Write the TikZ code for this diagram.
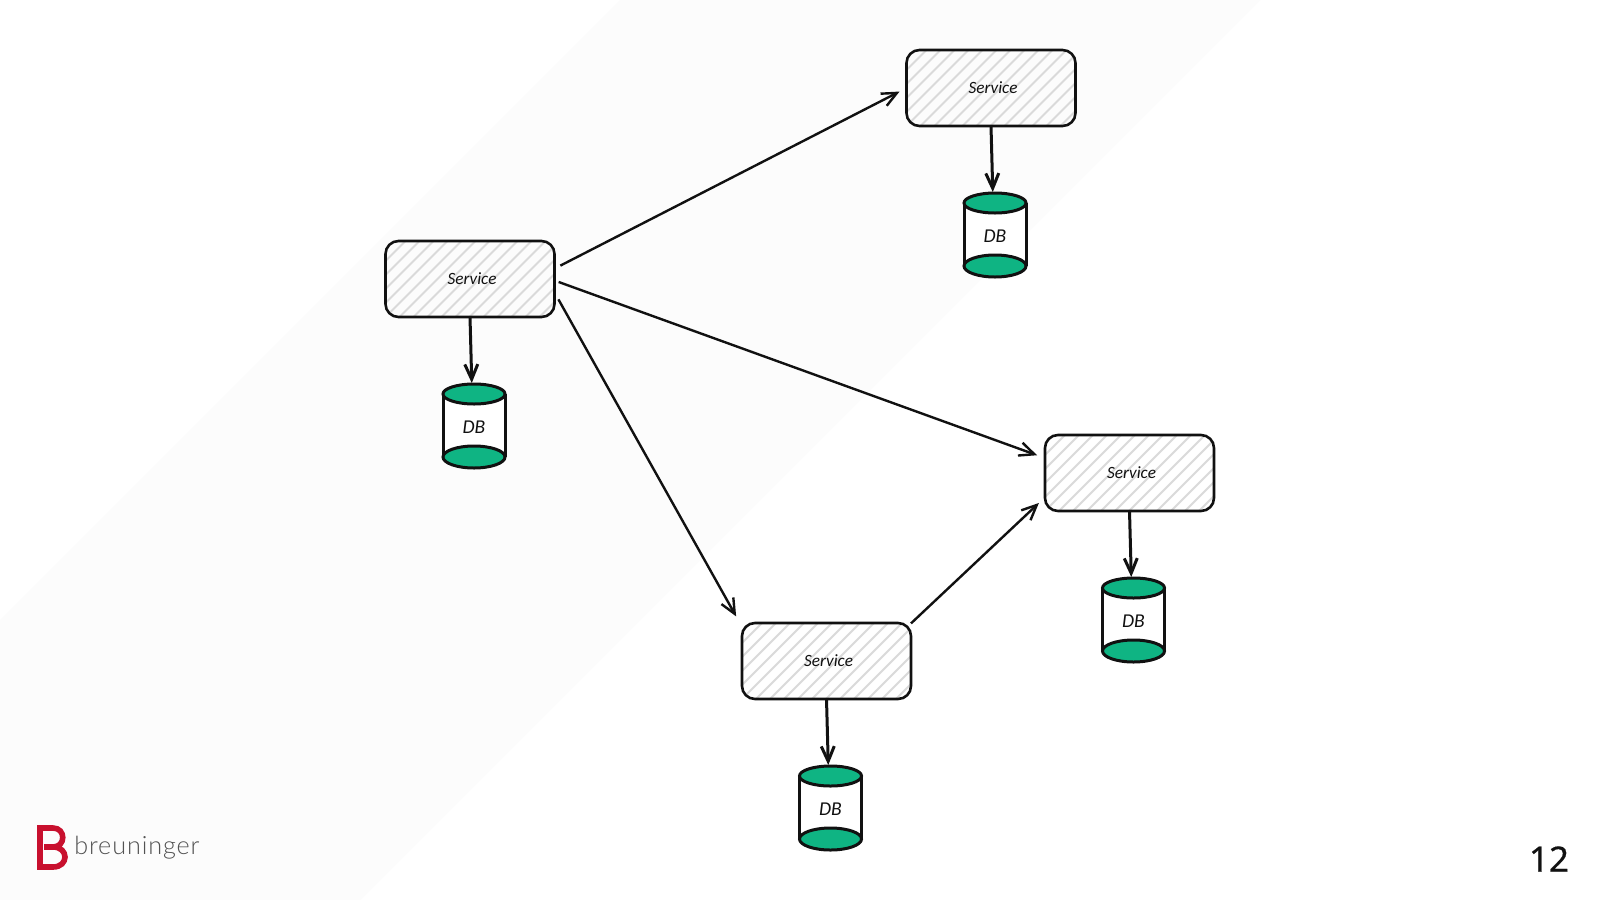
\documentclass[tikz,border=0pt]{standalone}
\usepackage{fontspec}
\setmainfont{Carlito}
\newfontfamily\logofont[LetterSpace=3.5]{Lato Light}
\newfontfamily\numfont[FakeBold=0.5]{Noto Sans}
\usetikzlibrary{arrows.meta}
\definecolor{dbgreen}{HTML}{0FB483}
\definecolor{ink}{HTML}{111111}
\definecolor{hatchgrey}{HTML}{DADADA}
\definecolor{brandred}{HTML}{C8102E}
\definecolor{bandgrey}{HTML}{FCFCFC}
\tikzset{
  px/.style={x=0.5pt,y=-0.5pt},
  servicebox/.style={minimum width=84.5pt,minimum height=38pt,inner sep=0pt,outer sep=0pt,font=\itshape\fontsize{8.6}{10}\selectfont,text=ink},
  dbbox/.style={minimum width=31pt,minimum height=42.5pt,inner sep=0pt,outer sep=0pt,font=\itshape\fontsize{9.8}{11}\selectfont,text=ink},
  flow/.style={draw=ink,line width=1.2pt,-{Straight Barb[length=7.5pt,width=6.8pt,line width=1.2pt]}},
  store/.style={draw=ink,line width=1.5pt,-{Straight Barb[length=7.5pt,width=6.5pt,line width=1.5pt]}},
  outline/.style={draw=ink,line width=1.3pt,rounded corners=6.5pt},
  hatch/.style={draw=hatchgrey,line width=0.95pt},
  cyl/.style={draw=ink,line width=1.5pt},
  lid/.style={draw=ink,fill=dbgreen,line width=1.5pt},
}
\newcommand{\servicebg}[1]{%
  \begin{scope}
    \clip[rounded corners=6.5pt] (#1.south west) rectangle (#1.north east);
    \foreach \k in {-14,...,22}{
      \draw[hatch] ([xshift=\k*7pt]#1.south west) -- ++(45:70pt);
    }
  \end{scope}
  \draw[outline] (#1.south west) rectangle (#1.north east);
}
\newcommand{\dbdraw}[1]{%
  \fill[white] ([yshift=-5.5pt]#1.north west) rectangle ([yshift=5.5pt]#1.south east);
  \draw[cyl] ([yshift=-5.5pt]#1.north west) -- ([yshift=5.5pt]#1.south west);
  \draw[cyl] ([yshift=-5.5pt]#1.north east) -- ([yshift=5.5pt]#1.south east);
  \draw[lid] ([yshift=-5.5pt]#1.north) ellipse (15.5pt and 5pt);
  \draw[lid] ([yshift=5.5pt]#1.south) ellipse (15.5pt and 5.5pt);
}
\begin{document}
\begin{tikzpicture}[px]
\useasboundingbox (0,0) rectangle (1600,900);
\fill[white] (0,0) rectangle (1600,900);
\fill[bandgrey] (620,0) -- (1260,0) -- (360,900) -- (0,900) -- (0,620) -- cycle;

\node[servicebox] (s1) at (470,279) {};
\node[servicebox] (s2) at (991,88) {};
\node[servicebox] (s3) at (1129.5,473) {};
\node[servicebox] (s4) at (826.5,661) {};
\foreach \n in {s1,s2,s3,s4}{\servicebg{\n}}
\node[servicebox,xshift=1pt,yshift=0.4pt] (t1) at (s1) {Service};
\node[servicebox,xshift=1pt,yshift=0.4pt] (t2) at (s2) {Service};
\node[servicebox,xshift=1pt,yshift=0.4pt] (t3) at (s3) {Service};
\node[servicebox,xshift=1pt,yshift=0.4pt] (t4) at (s4) {Service};

\node[dbbox] (d1) at (474,425.5) {};
\node[dbbox] (d2) at (995,234.5) {};
\node[dbbox] (d3) at (1133.5,619.5) {};
\node[dbbox] (d4) at (830.5,807.5) {};
\foreach \n in {d1,d2,d3,d4}{\dbdraw{\n}}
\node[dbbox,yshift=-0.8pt] (l1) at (d1) {DB};
\node[dbbox,yshift=-0.8pt] (l2) at (d2) {DB};
\node[dbbox,yshift=-0.8pt] (l3) at (d3) {DB};
\node[dbbox,yshift=-0.8pt] (l4) at (d4) {DB};

\draw[store] (s1.south) -- (d1.93);
\draw[store] (s2.south) -- (d2.93);
\draw[store] (s3.south) -- (d3.93);
\draw[store] (s4.south) -- (d4.93);

\draw[flow,shorten <=3.3pt,shorten >=3.9pt] (s1.7) -- (s2.180);
\draw[flow,shorten <=2.2pt,shorten >=4.2pt] (s1.-1) -- (s3.170.6);
\draw[flow,shorten <=4pt,shorten >=6pt] (s1.-9) -- (s4.158.9);
\draw[flow,shorten >=4.2pt] (s4.24) -- (s3.196.2);

% logo
\draw[brandred,line width=2.8pt,line join=miter]
  (44,847) -- (53,847)
  .. controls (66,847) and (66,828) .. (53,828) -- (40,828) -- (40,867) -- (53,867)
  .. controls (69,867) and (69,847) .. (53,847);
\node[anchor=west,inner sep=0pt,text=black!68,font=\logofont\fontsize{12.6}{14}\selectfont] (logotext) at (74,848) {breuninger};
\node[anchor=center,inner sep=0pt,text=ink,font=\numfont\fontsize{17.5}{20}\selectfont] (pagenum) at (1549,859) {12};
\end{tikzpicture}
\end{document}
